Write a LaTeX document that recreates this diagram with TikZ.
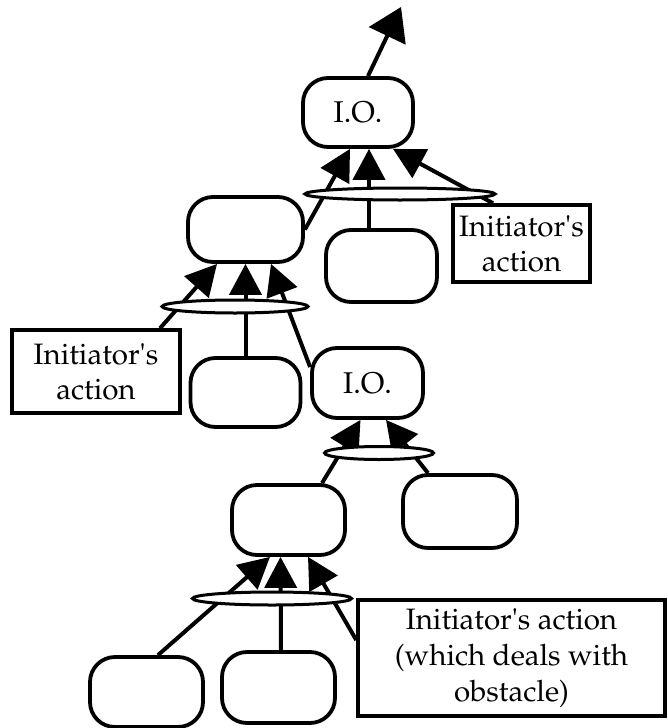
\documentclass[tikz,border=0pt]{standalone}
\usepackage[T1]{fontenc}
\usepackage{mathpazo}
\usetikzlibrary{arrows.meta,shapes.geometric}
\newcommand{\apos}{\textquotesingle}
\begin{document}
\begin{tikzpicture}[x=1pt,y=-1pt,
  blob/.style={draw,line width=3.8pt,rounded corners=25pt,fill=white,inner sep=0pt,
    font=\fontsize{30}{34}\selectfont},
  note/.style={draw,line width=3.5pt,fill=white,align=center,inner sep=0pt,
    font=\fontsize{29.5}{35}\selectfont},
  link/.style={line width=4pt,-{Triangle[length=31pt,width=32pt]}},
  fork/.style={draw,ellipse,line width=3pt,fill=white,inner sep=0pt}]
\useasboundingbox (0,0) rectangle (667,728);

% goal boxes
\node[blob,minimum width=110pt,minimum height=69pt] (io1) at (358,112.5) {I.O.};
\node[blob,minimum width=115pt,minimum height=65pt] (b1) at (245.5,229.5) {};
\node[blob,minimum width=111pt,minimum height=72pt] (b2) at (381.5,266) {};
\node[blob,minimum width=110pt,minimum height=69pt] (b3) at (245.5,392.5) {};
\node[blob,minimum width=111pt,minimum height=70pt] (io2) at (367.5,383) {I.O.};
\node[blob,minimum width=113pt,minimum height=70pt] (b4) at (288.5,520) {};
\node[blob,minimum width=114pt,minimum height=73pt] (b5) at (460,511.5) {};
\node[blob,minimum width=113pt,minimum height=70pt] (b6) at (146.5,692) {};
\node[blob,minimum width=113pt,minimum height=71pt] (b7) at (278.5,687.5) {};

% action labels
\node[note,minimum width=137pt,minimum height=77pt] (ia1) at (521.5,243.5) {Initiator\apos s\\action};
\node[note,minimum width=168pt,minimum height=83pt] (ia2) at (96,371.5) {Initiator\apos s\\action};
\node[note,minimum width=307pt,minimum height=116pt,font=\fontsize{29.5}{36}\selectfont]
  (ia3) at (511.5,658) {Initiator\apos s action\\(which deals with\\obstacle)};

% outgoing arrow at the top
\coordinate (sky) at (401,7);
\draw[line width=4pt,-{Triangle[length=32pt,width=40pt]}] ([xshift=10pt]io1.north) -- (sky);

% first level
\draw[link] (b1.east) -- ([xshift=-8pt]io1.south);
\draw[link] ([xshift=-12.5pt]b2.north) -- ([xshift=11pt]io1.south);
\draw[link] ([xshift=-28.5pt]ia1.north) -- ([xshift=35pt]io1.south);

% second level
\draw[link] ([xshift=64pt]ia2.north) -- ([xshift=-28.5pt]b1.south);
\draw[link] (b3.north) -- (b1.south);
\draw[link] ([yshift=16pt]io2.west) -- ([xshift=25.5pt]b1.south);

% third level
\draw[link] ([xshift=33.5pt]b4.north) -- ([xshift=-7pt]io2.south);
\draw[link] ([xshift=-32pt]b5.north) -- ([xshift=18.5pt]io2.south);

% fourth level
\draw[link] ([xshift=11.5pt]b6.north) -- ([xshift=-18.5pt]b4.south);
\draw[link] ([xshift=2.5pt]b7.north) -- ([xshift=-8pt]b4.south);
\draw[link] ([yshift=18pt]ia3.west) -- ([xshift=19.5pt]b4.south);

% conjunction ellipses
\node[fork,minimum width=190pt,minimum height=12pt] (e1) at (400,194) {};
\node[fork,minimum width=146pt,minimum height=13pt] (e2) at (235,306.5) {};
\node[fork,minimum width=109pt,minimum height=13pt] (e3) at (379,453) {};
\node[fork,minimum width=159pt,minimum height=13pt] (e4) at (272,598.5) {};
\end{tikzpicture}
\end{document}
